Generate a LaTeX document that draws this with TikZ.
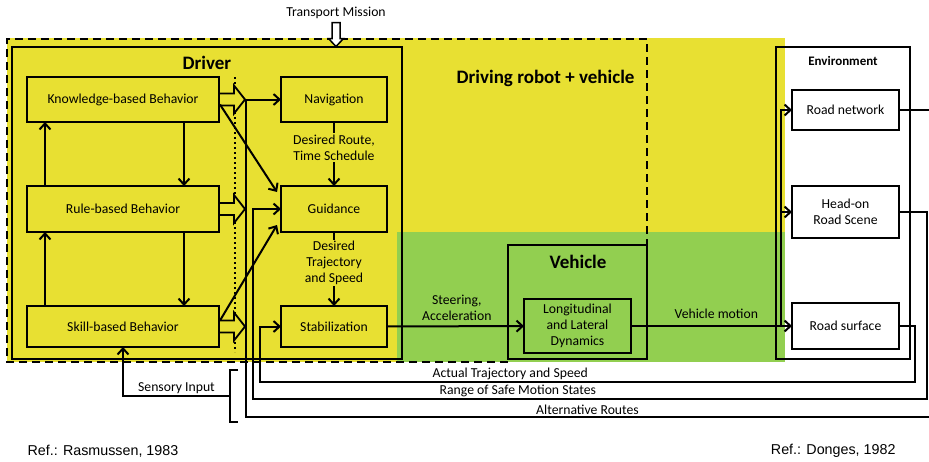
\documentclass[tikz,border=0pt]{standalone}
\usepackage{fontspec}
\setmainfont{Carlito}
\newfontfamily\reffont{Liberation Sans}
\usetikzlibrary{arrows.meta,calc}
\definecolor{drvyellow}{HTML}{E8E032}
\definecolor{vehgreen}{HTML}{92CF50}
\begin{document}
\begin{tikzpicture}[
        x=1pt, y=-1pt,
        block/.style={
            rectangle,
            draw,
            line width=1.3pt,
            align=center,
            inner sep=0pt,
            outer sep=0pt,
            font=\fontsize{13.7}{16}\selectfont
        },
        frame/.style={
            rectangle,
            draw,
            line width=2pt,
            inner sep=0pt,
            outer sep=0pt
        },
        title/.style={
            font=\fontsize{19}{21}\selectfont\bfseries
        },
        lbl/.style={
            align=center,
            inner sep=1.5pt,
            font=\fontsize{13.7}{16}\selectfont
        },
        arrow/.style={
            -{Straight Barb[length=6pt,width=11pt,line width=2pt]},
            line width=2pt
        },
        line/.style={
            line width=2pt
        },
        hollowright/.pic={
            \draw[line width=1.8pt, fill=drvyellow, line join=miter]
                (0,-6) -- (15,-6) -- (15,-14) -- (26,0) -- (15,14) -- (15,6) -- (0,6) -- cycle;
        },
        hollowdown/.pic={
            \draw[line width=1.5pt, fill=white, line join=miter]
                (-4,0) -- (-4,16) -- (-7.5,16) -- (0,24) -- (7.5,16) -- (4,16) -- (4,0) -- cycle;
        }
    ]
        \useasboundingbox (0,0) rectangle (929,461);

        % backgrounds
        \fill[drvyellow] (7,38) rectangle (785,362);
        \fill[vehgreen] (397,232) rectangle (785,362);

        % frames
        \node[frame, minimum width=390, minimum height=312] (drv) at (207,203) {};
        \node[title] (drvtitle) at (207,63) {Driver};
        \node[title, anchor=east] (robot) at (638,78) {Driving robot + vehicle};
        \node[frame, minimum width=139, minimum height=114] (veh) at (577.5,302) {};
        \node[title] (vehtitle) at (578,262) {Vehicle};
        \node[frame, minimum width=134, minimum height=312] (env) at (843,203) {};
        \node[font=\fontsize{13}{15}\selectfont\bfseries] (envtitle) at (843,61) {Environment};
        \draw[line, dash pattern=on 8pt off 5pt] (508,362) -| (7,39) -| (veh.north east);
        \draw[line, dash pattern=on 2pt off 3pt] (235,77) -- (235,352);

        % driver levels
        \node[block, minimum width=192, minimum height=45] (kb) at (123,99.5) {Knowledge-based Behavior};
        \node[block, minimum width=192, minimum height=46] (rb) at (123,209) {Rule-based Behavior};
        \node[block, minimum width=192, minimum height=41] (sb) at (123,326.5) {Skill-based Behavior};
        \node[block, minimum width=106, minimum height=45] (nav) at (334,99.5) {Navigation};
        \node[block, minimum width=106, minimum height=46] (guid) at (334,209) {Guidance};
        \node[block, minimum width=106, minimum height=41] (stab) at (334,326.5) {Stabilization};
        \node[block, minimum width=107, minimum height=54] (lld) at (577.5,326) {Longitudinal\\and Lateral\\Dynamics};

        % environment
        \node[block, fill=white, minimum width=107, minimum height=40] (rn) at (845.5,110) {Road network};
        \node[block, fill=white, minimum width=107, minimum height=52] (hrs) at (845.5,212) {Head-on\\Road Scene};
        \node[block, fill=white, minimum width=107, minimum height=46] (rs) at (845.5,326) {Road surface};

        % texts outside
        \node[lbl] (tm) at (336,13) {Transport Mission};
        \node[font=\reffont\fontsize{14.3}{16}\selectfont, anchor=west] (ref1) at (24,451) {Ref.: Rasmussen, 1983};
        \node[font=\reffont\fontsize{14.3}{16}\selectfont, anchor=east] (ref2) at (899,451) {Ref.: Donges, 1982};

        \coordinate (alt) at (929,417);
        \coordinate (altc) at (246,417);
        \coordinate (saf1) at (927,212);
        \coordinate (saf2) at (927,399);
        \coordinate (saf3) at (253,399);
        \coordinate (act1) at (915,326);
        \coordinate (act2) at (915,382);
        \coordinate (act3) at (260,382);
        \coordinate (rnout) at (929,110);
        \coordinate (vm) at (781,326);
        \coordinate (sens) at (230,396);

        % level arrows
        \draw[arrow] (kb.south -| 184,0) -- (rb.north -| 184,0);
        \draw[arrow] (rb.south -| 184,0) -- (sb.north -| 184,0);
        \draw[arrow] (rb.north -| 45,0) -- (kb.south -| 45,0);
        \draw[arrow] (sb.north -| 45,0) -- (rb.south -| 45,0);
        \pic at (kb.east) {hollowright};
        \pic at (rb.east) {hollowright};
        \pic at (sb.east) {hollowright};
        \pic at ($(tm.south)+(0,2)$) {hollowdown};
        \draw[arrow] ($(kb.east)+(1,5)$) -- ($(guid.north west)+(-4,6)$);
        \draw[arrow] ($(sb.east)+(1,-6)$) -- ($(guid.south west)+(-4,-7)$);

        \draw[arrow] (nav) -- node[lbl, fill=drvyellow, pos=0.4] {Desired Route,\\Time Schedule} (guid);
        \draw[arrow] (guid) -- node[lbl, fill=drvyellow, pos=0.42] {Desired\\Trajectory\\and Speed} (stab);
        \draw[arrow] (stab) -- node[lbl, above, pos=0.51, yshift=3pt] {Steering,\\Acceleration} (lld);
        \draw[arrow] (lld) -- node[lbl, above, pos=0.53, yshift=5pt] {Vehicle motion} (rs);
        \draw[arrow] (vm) |- (rn.west);
        \draw[arrow] (vm) |- (hrs.west);

        % feedback
        \draw[line] (rn.east) -- (rnout);
        \draw[arrow] (alt) -- node[lbl, above, pos=0.5] {Alternative Routes} (altc) |- (nav.west);
        \draw[arrow] (hrs.east) -- (saf1) -- (saf2) -- node[lbl, above, pos=0.607] {Range of Safe Motion States} (saf3) |- (guid.west);
        \draw[arrow] (rs.east) -- (act1) -- (act2) -- node[lbl, above, pos=0.618] {Actual Trajectory and Speed} (act3) |- (stab.west);

        % sensory input
        \draw[line] (238,370) -- (230,370) -- (230,422) -- (238,422);
        \draw[arrow] (sens) -| node[lbl, above, pos=0.25] {Sensory Input} (sb.south);

    \end{tikzpicture}
\end{document}
